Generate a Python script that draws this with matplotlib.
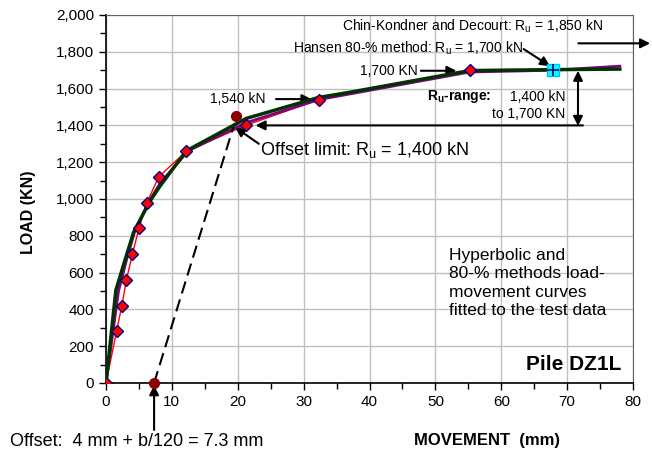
import matplotlib
matplotlib.use("Agg")
import matplotlib.pyplot as plt
from matplotlib.ticker import MultipleLocator, FuncFormatter

plt.rcParams['font.family'] = ['Liberation Sans', 'DejaVu Sans']
plt.rcParams['mathtext.fontset'] = 'custom'
plt.rcParams['mathtext.rm'] = 'Liberation Sans'
plt.rcParams['mathtext.bf'] = 'Liberation Sans:bold'
plt.rcParams['mathtext.it'] = 'Liberation Sans:italic'

# test data (movement mm, load kN)
test_mm = [0, 1.6, 2.4, 3.1, 4.0, 5.0, 6.2, 8.0, 12.2, 21.2, 32.3, 55.2]
test_kn = [0, 280, 420, 560, 700, 840, 980, 1120, 1260, 1400, 1540, 1700]

# fitted curves
hyp_mm = [0, 1.5, 2.9, 4.2, 6.7, 8.2, 12.2, 21.3, 32.3, 37.0, 55.2, 68.0, 78.0]
hyp_kn = [0, 505, 670, 820, 990, 1070, 1262, 1438, 1552, 1580, 1698, 1703, 1706]
p80_mm = [0, 1.9, 3.2, 4.4, 6.5, 8.3, 12.5, 21.3, 32.3, 55.2, 68.0, 78.0]
p80_kn = [0, 500, 680, 830, 985, 1090, 1262, 1415, 1540, 1690, 1700, 1722]

# offset limit line
offset_mm = [7.3, 19.5]
offset_kn = [0, 1410]
offset_pts_mm = [7.3, 19.8]
offset_pts_kn = [0, 1450]

hansen_mm = [67.9]
hansen_kn = [1700]

fig = plt.figure(figsize=(6.52, 4.53), dpi=100)
ax = fig.add_axes([106/652, 70/453, 527/652, 368/453])

ax.plot(test_mm, test_kn, color='red', lw=1, zorder=3)
ax.plot(p80_mm, p80_kn, color='#800080', lw=2, zorder=4)
ax.plot(hyp_mm, hyp_kn, color='#003300', lw=2.5, zorder=5)
ax.plot(test_mm, test_kn, 'D', ms=6.5, mfc='red', mec='#000080', mew=1, zorder=6)
ax.plot(offset_mm, offset_kn, color='black', lw=1.5, dashes=(6, 3), zorder=4)
ax.plot(offset_pts_mm, offset_pts_kn, 'o', ms=7, color='#8b0000', zorder=7, clip_on=False)
ax.plot(hansen_mm, hansen_kn, 's', ms=8, mfc='cyan', mec='#00c0ff', zorder=7)
ax.plot(hansen_mm, hansen_kn, '+', ms=8, color='#000080', mew=1.2, zorder=8)

ax.set_xlim(0, 80)
ax.set_ylim(0, 2000)
ax.xaxis.set_major_locator(MultipleLocator(10))
ax.xaxis.set_minor_locator(MultipleLocator(5))
ax.yaxis.set_major_locator(MultipleLocator(200))
ax.yaxis.set_minor_locator(MultipleLocator(100))
ax.yaxis.set_major_formatter(FuncFormatter(lambda v, p: f"{v:,.0f}"))
ax.grid(True, which='major', color='#c0c0c0', lw=1)
ax.set_axisbelow(True)
ax.tick_params(which='major', direction='out', length=5, width=1, labelsize=11, colors='black')
ax.tick_params(which='minor', direction='out', length=4, width=1)
for s in ['top', 'right']:
    ax.spines[s].set_color('#606060')
ax.spines['left'].set_linewidth(1.2)
ax.spines['bottom'].set_linewidth(1.2)

ax.set_xlabel('MOVEMENT  (mm)', fontsize=12, fontweight='bold')
ax.xaxis.set_label_coords(0.723, -0.135)
ax.set_ylabel('LOAD (KN)', fontsize=11.5, fontweight='bold')
ax.yaxis.set_label_coords(-0.132, 0.465)

arr = dict(arrowstyle='-|>', color='black', lw=1.5, mutation_scale=14, shrinkA=0, shrinkB=0)
fs = 10

ax.text(20.0, 1543, '1,540 kN', fontsize=fs, ha='center', va='center')
ax.annotate('', xy=(31.2, 1543), xytext=(25.8, 1543), arrowprops=arr)

ax.annotate('', xy=(22.7, 1400), xytext=(72.4, 1400), arrowprops=arr)
ax.text(23.4, 1266, r'Offset limit: R$_\mathrm{u}$ = 1,400 kN', fontsize=13, ha='left', va='center')
ax.annotate('', xy=(19.6, 1390), xytext=(23.2, 1300), arrowprops=arr)

ax.text(47.4, 1697, '1,700 KN', fontsize=fs, ha='right', va='center')
ax.annotate('', xy=(53.2, 1697), xytext=(47.8, 1697), arrowprops=arr)

ax.text(63.3, 1820, r'Hansen 80-% method: R$_\mathrm{u}$ = 1,700 kN', fontsize=fs, ha='right', va='center')
ax.annotate('', xy=(67.4, 1722), xytext=(63.4, 1815), arrowprops=arr)

ax.text(75.4, 1936, r'Chin-Kondner and Decourt: R$_\mathrm{u}$ = 1,850 kN', fontsize=fs, ha='right', va='center')
ax.annotate('', xy=(82.6, 1846), xytext=(71.7, 1846), arrowprops=arr, annotation_clip=False)

ax.text(48.7, 1556, r'$\mathbf{R_u}$-range:', fontsize=fs, fontweight='bold', ha='left', va='center')
ax.text(69.7, 1556, '1,400 kN', fontsize=fs, ha='right', va='center')
ax.text(69.7, 1460, 'to 1,700 KN', fontsize=fs, ha='right', va='center')
ax.annotate('', xy=(71.65, 1697), xytext=(71.65, 1397),
            arrowprops=dict(arrowstyle='<|-|>', color='black', lw=1.5, mutation_scale=14, shrinkA=0, shrinkB=0))

ax.text(52.1, 736, 'Hyperbolic and\n80-% methods load-\nmovement curves\nfitted to the test data',
        fontsize=12.5, ha='left', va='top', linespacing=1.3)
ax.text(78.3, 98, 'Pile DZ1L', fontsize=15, fontweight='bold', ha='right', va='center')

ax.annotate('', xy=(7.3, -12), xytext=(7.3, -255), arrowprops=arr, annotation_clip=False)
fig.text(10/652, 1 - 441.7/453, 'Offset:  4 mm + b/120 = 7.3 mm', fontsize=13, ha='left', va='center')

fig.savefig('out.png', dpi=100)
